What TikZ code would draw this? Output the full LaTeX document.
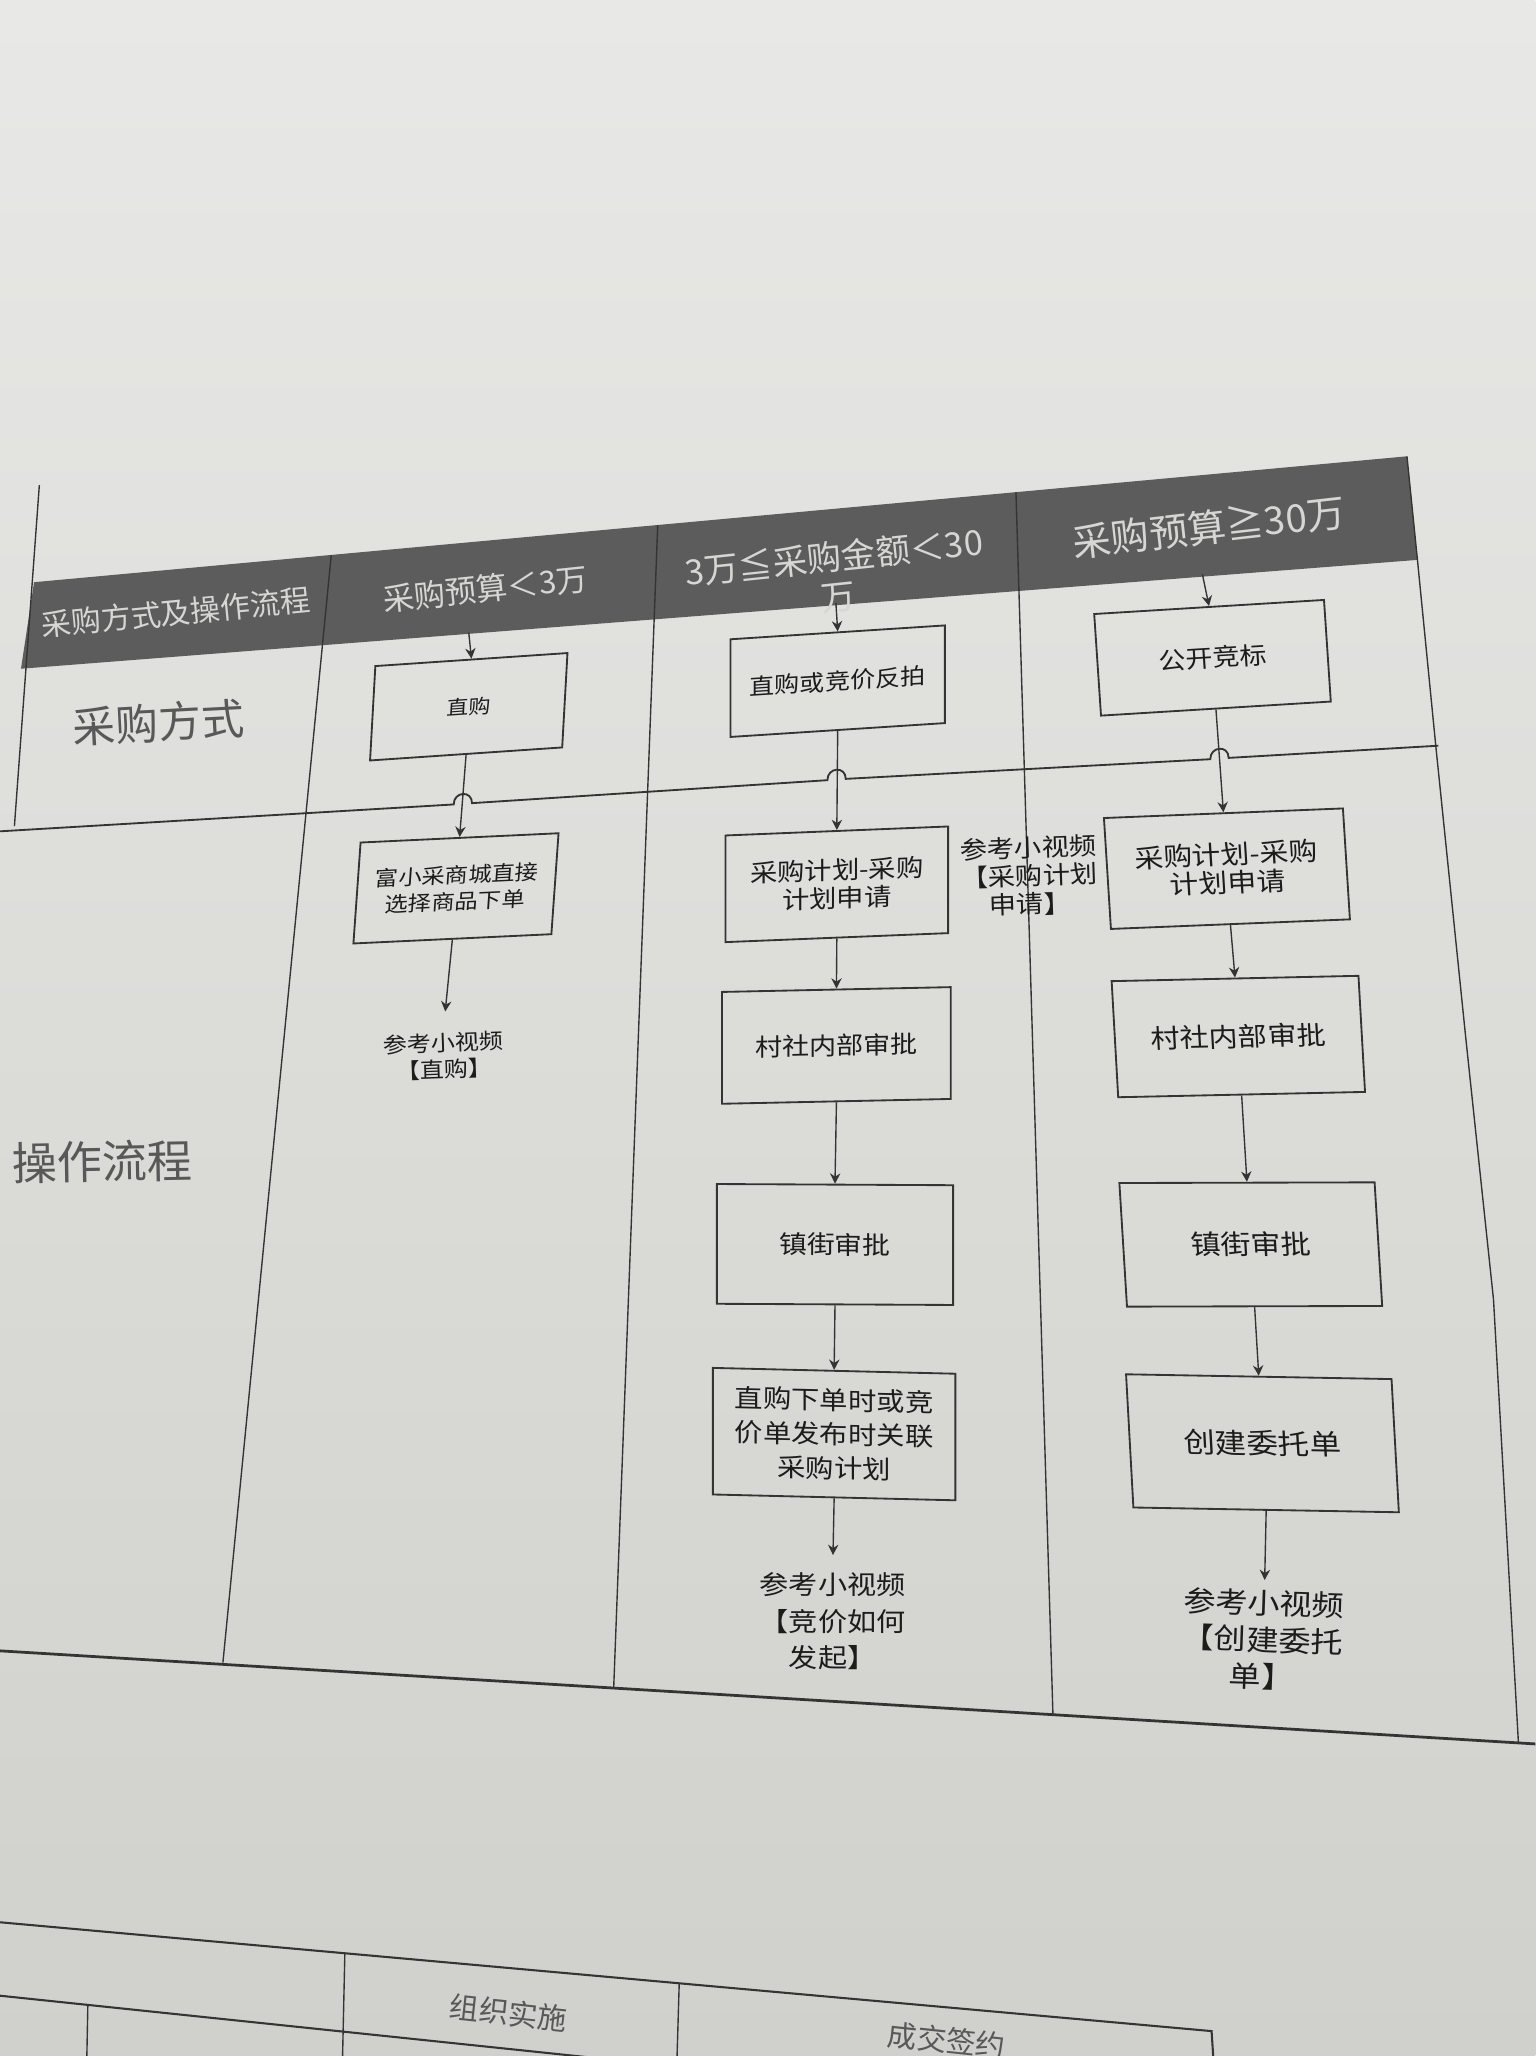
\documentclass[tikz,border=0pt]{standalone}
\usepackage{fontspec}
\setmainfont{Noto Sans CJK SC}
\newfontfamily\bx[FakeStretch=1.12]{Noto Sans CJK SC}
\usetikzlibrary{arrows.meta}
\definecolor{paperT}{RGB}{232,232,230}
\definecolor{paperB}{RGB}{208,208,204}
\definecolor{bandc}{RGB}{92,92,92}
\definecolor{hdrc}{RGB}{214,214,212}
\definecolor{linec}{RGB}{52,52,52}
\definecolor{txtc}{RGB}{28,28,28}
\definecolor{labc}{RGB}{88,88,88}
\tikzset{
  boxn/.style={draw=linec, line width=0.8pt, inner sep=0pt, align=center, text=txtc},
  conn/.style={draw=linec, line width=0.6pt, -{Stealth[length=4.5pt,width=4.5pt]}},
  tline/.style={draw=linec, line width=0.6pt},
  hdrtext/.style={text=hdrc, align=center, inner sep=0pt},
  reftext/.style={text=txtc, align=center, inner sep=0pt},
  labtext/.style={text=labc, align=center, inner sep=0pt},
}
\begin{document}
\begin{tikzpicture}[x=0.02cm, y=-0.02cm]
\useasboundingbox (0,0) rectangle (1171,1568);
\clip (0,0) rectangle (1171,1568);
% paper
\shade[top color=paperT, bottom color=paperB] (0,0) rectangle (1171,1568);

% header band
\fill[bandc] (26,444) -- (1073,348) -- (1081,427) -- (16,510) -- cycle;

% table lines
\draw[tline] (30,370) -- (11,630);
\draw[tline] (252.6,423.5) -- (170,1268);
\draw[tline] (501.6,400.5) -- (468,1288);
\draw[tline] (774.8,375.3) -- (803,1307);
\draw[tline] (1073,348) -- (1081,427) -- (1095,569) -- (1118,793) -- (1139,991) -- (1158,1329);
\draw[draw=linec, line width=1.2pt] (0,1259) -- (1171,1330);
% row divider with hops
\draw[draw=linec, line width=0.8pt] (0,634) -- (346,613.5)
  .. controls (346,603.5) and (360,602.5) .. (360,612.5) -- (631,595)
  .. controls (631,585) and (645,584) .. (645,594) -- (923,579)
  .. controls (923,569) and (937,568) .. (937,578) -- (1097,568.7);

% second table (partly visible)
\draw[draw=linec, line width=0.9pt] (0,1466) -- (924,1549) -- (926,1580);
\draw[draw=linec, line width=0.9pt] (0,1522) -- (560,1580.6);
\draw[tline] (263,1489.6) -- (261,1580);
\draw[tline] (518,1512.5) -- (516,1580);
\draw[tline] (67,1529) -- (66,1580);

% header texts
\node[hdrtext, rotate=5.5, font=\fontsize{13}{15}\selectfont] (hdr0) at (134,467) {采购方式及操作流程};
\node[hdrtext, rotate=6, font=\fontsize{13.6}{15}\selectfont] (hdr1) at (370,449) {采购预算＜3万};
\node[hdrtext, rotate=6, font=\fontsize{15}{17.5}\selectfont] (hdr2) at (637.5,440) {3万≦采购金额＜30\\万};
\node[hdrtext, rotate=6.5, font=\fontsize{16.7}{18}\selectfont] (hdr3) at (922,402) {采购预算≧30万};

% row labels
\node[labtext, rotate=3, font=\fontsize{18.6}{20}\selectfont] (lab1) at (121,551) {采购方式};
\node[labtext, rotate=1, font=\fontsize{19.6}{21}\selectfont] (lab2) at (78,886) {操作流程};

% header arrow starts
\coordinate (h2) at (357.5,482.5);
\coordinate (h3) at (637.5,460);
\coordinate (h4) at (917,438);

% column 2
\node[boxn, minimum width=2.92cm, minimum height=1.44cm, xslant=0.056, yslant=0.068,
      font=\bx\fontsize{8.5}{10}\selectfont] (b1) at (357.5,539) {直购};
\node[boxn, minimum width=3.01cm, minimum height=1.54cm, xslant=0.071, yslant=0.047,
      font=\bx\fontsize{9}{11.6}\selectfont] (b2) at (347.75,677.5) {富小采商城直接\\选择商品下单};
\node[reftext, rotate=2, font=\bx\fontsize{9.35}{11.6}\selectfont] (t1) at (338.6,805.5) {参考小视频\\【直购】};

% column 3
\node[boxn, minimum width=3.27cm, minimum height=1.49cm, yslant=0.0646,
      font=\bx\fontsize{9.75}{11}\selectfont] (b3) at (638.85,519.5) {直购或竞价反拍};
\node[boxn, minimum width=3.395cm, minimum height=1.627cm, yslant=0.0404,
      font=\bx\fontsize{10.6}{12.3}\selectfont] (b4) at (638.2,674.4) {采购计划-采购\\计划申请};
\node[boxn, minimum width=3.49cm, minimum height=1.706cm, yslant=0.021,
      font=\bx\fontsize{10.5}{12}\selectfont] (b5) at (637.9,797.3) {村社内部审批};
\node[boxn, minimum width=3.605cm, minimum height=1.827cm, yslant=-0.005,
      font=\bx\fontsize{10.8}{12}\selectfont] (b6) at (636.8,949.1) {镇街审批};
\node[boxn, minimum width=3.70cm, minimum height=1.931cm, yslant=-0.024,
      font=\bx\fontsize{11}{14.8}\selectfont] (b7) at (636.15,1093.7) {直购下单时或竞\\价单发布时关联\\采购计划};
\node[reftext, font=\bx\fontsize{11.3}{15.9}\selectfont] (t3) at (635,1236.5) {参考小视频\\【竞价如何\\发起】};

% middle reference text
\node[reftext, rotate=2, font=\bx\fontsize{10.6}{12.3}\selectfont] (t2) at (785,668) {参考小视频\\【采购计划\\申请】};

% column 4
\node[boxn, minimum width=3.52cm, minimum height=1.55cm, xslant=-0.067, yslant=0.061,
      font=\bx\fontsize{10.5}{12}\selectfont] (b8) at (924.7,501.65) {公开竞标};
\node[boxn, minimum width=3.655cm, minimum height=1.692cm, xslant=-0.063, yslant=0.04,
      font=\bx\fontsize{11.2}{12.3}\selectfont] (b9) at (935.7,662.5) {采购计划-采购\\计划申请};
\node[boxn, minimum width=3.77cm, minimum height=1.771cm, xslant=-0.0565, yslant=0.0215,
      font=\bx\fontsize{11.3}{13}\selectfont] (b10) at (944.4,790.5) {村社内部审批};
\node[boxn, minimum width=3.894cm, minimum height=1.886cm, xslant=-0.0615, yslant=0.0026,
      font=\bx\fontsize{11.7}{13}\selectfont] (b11) at (953.9,949.1) {镇街审批};
\node[boxn, minimum width=4.046cm, minimum height=2.032cm, xslant=-0.055, yslant=-0.018,
      font=\bx\fontsize{12.2}{14}\selectfont] (b12) at (962.8,1100.7) {创建委托单};
\node[reftext, rotate=-2, font=\bx\fontsize{12.5}{15.9}\selectfont] (t4) at (963,1250.5) {参考小视频\\【创建委托\\单】};

% second table texts
\node[labtext, rotate=-6, font=\fontsize{12.8}{14}\selectfont] (z1) at (388,1535) {组织实施};
\node[labtext, rotate=-6, font=\fontsize{12.8}{14}\selectfont] (z2) at (722,1556) {成交签约};

% connectors
\draw[conn] (h2) -- (b1.north);
\draw[conn] (b1.south) -- (b2.north);
\draw[conn, shorten >=0.32cm] (b2.south) -- (t1.north);
\draw[conn] (h3) -- (b3.north);
\draw[conn] (b3.south) -- (b4.north);
\draw[conn] (b4.south) -- (b5.north);
\draw[conn] (b5.south) -- (b6.north);
\draw[conn] (b6.south) -- (b7.north);
\draw[conn, shorten >=0.26cm] (b7.south) -- (t3.north);
\draw[conn] (h4) -- (b8.north);
\draw[conn] (b8.south) -- (b9.north);
\draw[conn] (b9.south) -- (b10.north);
\draw[conn] (b10.south) -- (b11.north);
\draw[conn] (b11.south) -- (b12.north);
\draw[conn, shorten >=0.14cm] (b12.south) -- (t4.north);
\end{tikzpicture}
\end{document}
